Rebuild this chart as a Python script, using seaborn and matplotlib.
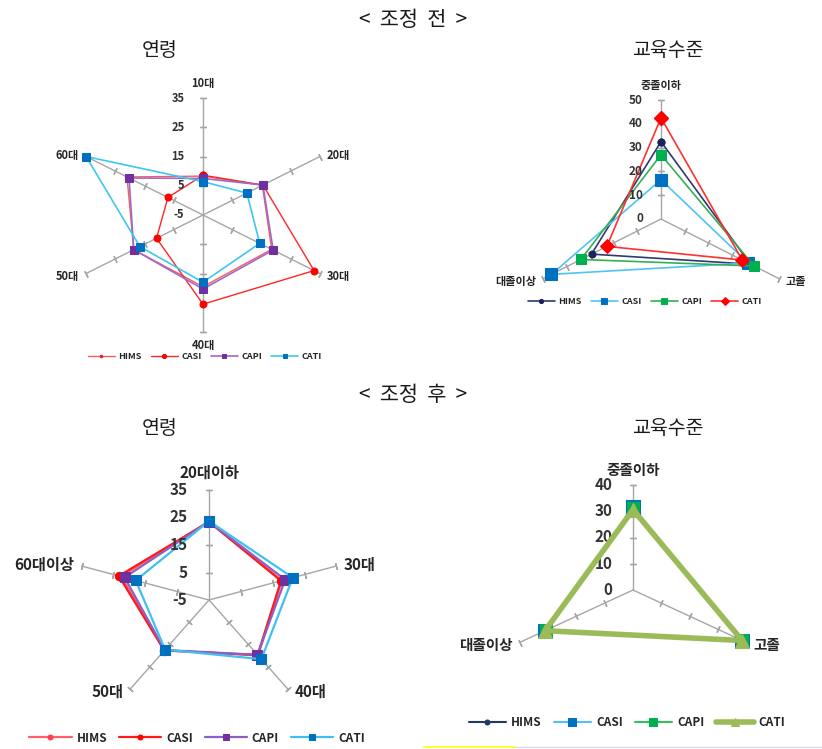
import numpy as np
import matplotlib
matplotlib.use("Agg")
import matplotlib.pyplot as plt
from matplotlib.transforms import offset_copy
from matplotlib.lines import Line2D
import seaborn as sns

sns.set_theme(style="white")
plt.rcParams["font.family"] = ["Noto Sans CJK KR", "DejaVu Sans"]

# ---- data -------------------------------------------------------------
SERIES = ["HIMS", "CASI", "CAPI", "CATI"]

age_before_cats = ["10대", "20대", "30대", "40대", "50대", "60대"]
age_before_hims = [8.3, 15.3, 18.5, 19.5, 18.7, 21.0]
age_before_casi = [8.6, 15.5, 33.0, 25.5, 10.9, 7.0]
age_before_capi = [7.5, 15.5, 19.0, 20.3, 18.7, 20.3]
age_before_cati = [6.4, 10.0, 14.4, 18.0, 16.6, 35.0]

edu_before_cats = ["중졸이하", "고졸", "대졸이상"]
edu_before_hims = [32.5, 38.0, 29.5]
edu_before_casi = [16.5, 37.0, 46.5]
edu_before_capi = [27.0, 39.5, 34.0]
edu_before_cati = [42.5, 34.5, 23.0]

age_after_cats = ["20대이하", "30대", "40대", "50대", "60대이상"]
age_after_hims = [23.6, 17.9, 19.9, 17.6, 22.6]
age_after_casi = [23.4, 17.6, 19.7, 17.7, 23.3]
age_after_capi = [23.5, 18.9, 19.6, 17.5, 21.5]
age_after_cati = [23.7, 21.3, 21.6, 17.3, 18.0]

edu_after_cats = ["중졸이하", "고졸", "대졸이상"]
edu_after_hims = [31.0, 38.3, 30.7]
edu_after_casi = [31.5, 38.6, 31.0]
edu_after_capi = [31.3, 38.4, 30.8]
edu_after_cati = [30.6, 38.5, 31.0]

# ---- figure -----------------------------------------------------------
W, H = 822, 749
fig = plt.figure(figsize=(W / 100, H / 100), dpi=100)
fig.patch.set_facecolor("white")


def box(cx, cy, rx, ry):
    return [(cx - rx) / W, 1 - (cy + ry) / H, 2 * rx / W, 2 * ry / H]


def radar(rect, rx, ry, cats, values, styles, rmin, rmax, rticks,
          cat_size, num_size, num_gap, cat_gap, legend_xy, legend_size,
          handlelen):
    ax = fig.add_axes(rect, projection="polar")
    ax.set_aspect("auto")
    ax.set_theta_zero_location("N")
    ax.set_theta_direction(-1)
    ax.grid(False)
    ax.spines["polar"].set_visible(False)
    ax.set_xticks([])
    ax.set_yticks([])
    ax.set_facecolor("none")

    n = len(cats)
    theta = np.arange(n) * 2 * np.pi / n
    handles = []
    for name, vals, st in zip(SERIES, values, styles):
        t = np.append(theta, theta[0] + 2 * np.pi)
        v = np.append(vals, vals[0])
        sns.lineplot(x=t, y=v, ax=ax, sort=False, estimator=None,
                     color=st["line"], linewidth=st.get("lw", 1.2),
                     marker=st["marker"], markersize=st["ms"],
                     markerfacecolor=st["mc"], markeredgecolor=st["mc"],
                     zorder=st.get("z", 3), clip_on=False)
        handles.append(ax.lines[-1])

    # spokes with tick marks
    for th, lab in zip(theta, cats):
        ax.plot([th, th], [rmin, rmax], color="#A6A6A6", lw=1.0, zorder=1,
                clip_on=False)
        phi = np.degrees(np.arctan2(ry * np.cos(th), rx * np.sin(th)))
        ax.plot([th] * len(rticks), rticks, linestyle="none",
                marker=(2, 2, phi), markersize=5, markeredgecolor="#A6A6A6",
                markeredgewidth=1.0, zorder=1, clip_on=False)
        s, c = np.sin(th), np.cos(th)
        if abs(s) < 0.1:
            ha = "center"
            va = "bottom" if c > 0 else "top"
            off = (0, cat_gap if c > 0 else -cat_gap + 1)
        else:
            ha = "left" if s > 0 else "right"
            va = "center"
            off = (5 if s > 0 else -5, 1 if c > 0 else -2)
        ax.text(th, rmax, lab, ha=ha, va=va, fontsize=cat_size,
                fontweight="bold", color="#262626",
                transform=offset_copy(ax.transData, fig=fig, x=off[0],
                                      y=off[1], units="points"))

    for v in [rmin] + list(rticks):
        ax.text(0, v, f"{v:g}", ha="right", va="center", fontsize=num_size,
                fontweight="bold", color="#333333",
                transform=offset_copy(ax.transData, fig=fig, x=-num_gap, y=0,
                                      units="points"))
    ax.set_ylim(rmin, rmax)

    fig.legend(handles, SERIES, loc="center",
               bbox_to_anchor=(legend_xy[0] / W, 1 - legend_xy[1] / H),
               ncol=4, frameon=False,
               prop={"weight": "bold", "size": legend_size},
               handlelength=handlelen, columnspacing=1.0, handletextpad=0.4,
               markerscale=0.6)
    return ax


# styles for each chart
st_age_before = [
    dict(line="#FF5A5A", mc="#E0202A", marker="o", ms=3, lw=1.0),
    dict(line="#FF2626", mc="#FF0000", marker="o", ms=5, lw=1.0),
    dict(line="#9A6BCB", mc="#7030A0", marker="s", ms=6, lw=1.2),
    dict(line="#3CC8F0", mc="#0070C0", marker="s", ms=6, lw=1.2),
]
st_edu_before = [
    dict(line="#2E3A70", mc="#1B2458", marker="o", ms=5, lw=1.2),
    dict(line="#4FC3F7", mc="#0070C0", marker="s", ms=8, lw=1.2),
    dict(line="#33B050", mc="#00B050", marker="s", ms=7, lw=1.2),
    dict(line="#FF3030", mc="#FF0000", marker="D", ms=7, lw=1.2),
]
st_age_after = [
    dict(line="#FF6070", mc="#FF4050", marker="o", ms=6, lw=1.6),
    dict(line="#FF1A1A", mc="#FF0000", marker="o", ms=6, lw=1.6),
    dict(line="#8A60C8", mc="#7030A0", marker="s", ms=7, lw=1.6),
    dict(line="#40C0F0", mc="#0070C0", marker="s", ms=7, lw=1.6),
]
st_edu_after = [
    dict(line="#1F3864", mc="#1F3864", marker="o", ms=6, lw=1.5),
    dict(line="#4FC3F7", mc="#0070C0", marker="s", ms=10, lw=1.5),
    dict(line="#33C060", mc="#00B050", marker="s", ms=9, lw=1.5),
    dict(line="#9BBB59", mc="#9BBB59", marker="^", ms=10, lw=4.0, z=5),
]

radar(box(203, 215, 135, 117), 135, 117, age_before_cats,
      [age_before_hims, age_before_casi, age_before_capi, age_before_cati],
      st_age_before, -5, 35, [5, 15, 25, 35], 8, 8, 13.5, 6,
      (205, 357), 6.5, 3.0)

radar(box(661, 219, 136, 119), 136, 119, edu_before_cats,
      [edu_before_hims, edu_before_casi, edu_before_capi, edu_before_cati],
      st_edu_before, 0, 50, [10, 20, 30, 40, 50], 8, 8.5, 13, 6,
      (645, 302), 6.5, 3.0)

radar(box(209, 600, 134, 110), 134, 110, age_after_cats,
      [age_after_hims, age_after_casi, age_after_capi, age_after_cati],
      st_age_after, -5, 35, [5, 15, 25, 35], 11, 11, 15.5, 7,
      (197, 738), 8.5, 3.6)

radar(box(633, 590, 131, 105), 131, 105, edu_after_cats,
      [edu_after_hims, edu_after_casi, edu_after_capi, edu_after_cati],
      st_edu_after, 0, 40, [10, 20, 30, 40], 10.5, 11, 15, 5,
      (627, 723), 8.5, 3.2)

# titles
def ftext(x, y, s, size):
    fig.text(x / W, 1 - y / H, s, ha="center", va="center", fontsize=size,
             color="#1A1A1A")

ftext(413, 20, "<  조정  전  >", 15)
ftext(160, 51, "연령", 14)
ftext(668, 51, "교육수준", 14)
ftext(413, 395, "<  조정  후  >", 15)
ftext(160, 428, "연령", 14)
ftext(668, 428, "교육수준", 14)

# sheet edge strip along the bottom
fig.add_artist(Line2D([424 / W, 515 / W], [1 - 747 / H] * 2, color="#FFFF33", lw=1.5))
fig.add_artist(Line2D([515 / W, 1.0], [1 - 747 / H] * 2, color="#D5DCE8", lw=1.0))

fig.savefig("out.png", dpi=100, facecolor="white")
